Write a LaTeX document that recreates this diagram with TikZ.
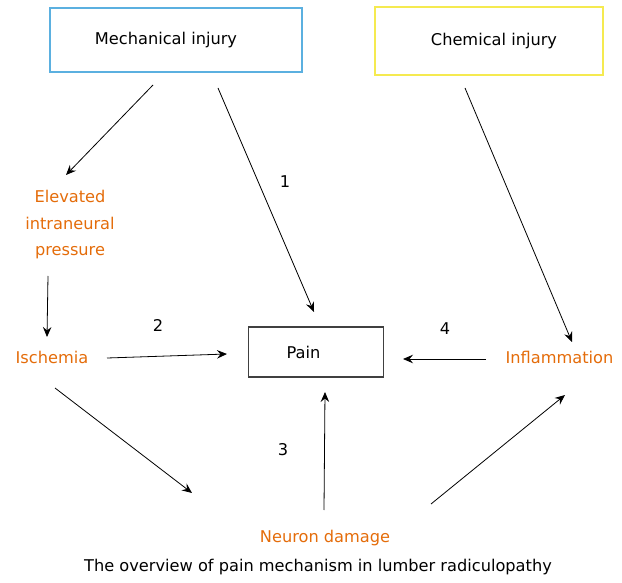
\documentclass[tikz,border=0pt]{standalone}
\usepackage{fontspec}
\setmainfont{DejaVu Sans}
\usetikzlibrary{arrows.meta}
\definecolor{orangetxt}{HTML}{E46C0A}
\definecolor{bluebox}{HTML}{5BB0E0}
\definecolor{yellowbox}{HTML}{F5EA50}
\definecolor{greybox}{HTML}{404040}
\begin{document}
\begin{tikzpicture}[x=1pt,y=-1pt,
  font=\fontsize{16.2}{18}\selectfont,
  arr/.style={-{Stealth[length=10pt,width=8.5pt,inset=3.5pt]}, line width=0.8pt},
  boxnode/.style={draw, line width=1.2pt, inner sep=0pt},
  orangelbl/.style={text=orangetxt, align=center, inner sep=0pt},
  numlbl/.style={inner sep=0pt}]
\useasboundingbox (0,0) rectangle (622,583);
% boxes
\node[boxnode, draw=bluebox, minimum width=252pt, minimum height=64pt] (mech) at (176,40) {\hspace*{-20pt}Mechanical injury};
\node[boxnode, draw=yellowbox, minimum width=228pt, minimum height=68pt] (chem) at (489,41) {\hspace*{10pt}Chemical injury};
\node[boxnode, draw=greybox, minimum width=135pt, minimum height=50pt] (pain) at (316,352) {\hspace*{-25pt}Pain};
% orange labels
\node[orangelbl, font=\fontsize{16.2}{26.5}\selectfont] (elev) at (70,225) {Elevated\\intraneural\\pressure};
\node[orangelbl] (isch) at (52,357) {Ischemia};
\node[orangelbl] (infl) at (559.5,357) {Inflammation};
\node[orangelbl] (neur) at (325,538) {Neuron damage};
% caption
\node[inner sep=0pt] (cap) at (318,567) {The overview of pain mechanism in lumber radiculopathy};
% numbers
\node[numlbl] (n1) at (285,182) {1};
\node[numlbl] (n2) at (158,325) {2};
\node[numlbl] (n3) at (283,450) {3};
\node[numlbl] (n4) at (445,329) {4};
% connector end points
\coordinate (a1s) at (153,85);  \coordinate (a1e) at (66,175);
\coordinate (a2s) at (218,88);  \coordinate (a2e) at (314,312);
\coordinate (a3s) at (48,276);  \coordinate (a3e) at (47,337);
\coordinate (a4s) at (107,358); \coordinate (a4e) at (227,354);
\coordinate (a5s) at (486,359); \coordinate (a5e) at (403,359);
\coordinate (a6s) at (465,88);  \coordinate (a6e) at (572,342);
\coordinate (a7s) at (55,388);  \coordinate (a7e) at (192,493);
\coordinate (a8s) at (324,510); \coordinate (a8e) at (325,392);
\coordinate (a9s) at (431,504); \coordinate (a9e) at (565,395);
% connectors
\draw[arr] (a1s) -- (a1e);
\draw[arr] (a2s) -- (a2e);
\draw[arr] (a3s) -- (a3e);
\draw[arr] (a4s) -- (a4e);
\draw[arr] (a5s) -- (a5e);
\draw[arr] (a6s) -- (a6e);
\draw[arr] (a7s) -- (a7e);
\draw[arr] (a8s) -- (a8e);
\draw[arr] (a9s) -- (a9e);
\end{tikzpicture}
\end{document}
